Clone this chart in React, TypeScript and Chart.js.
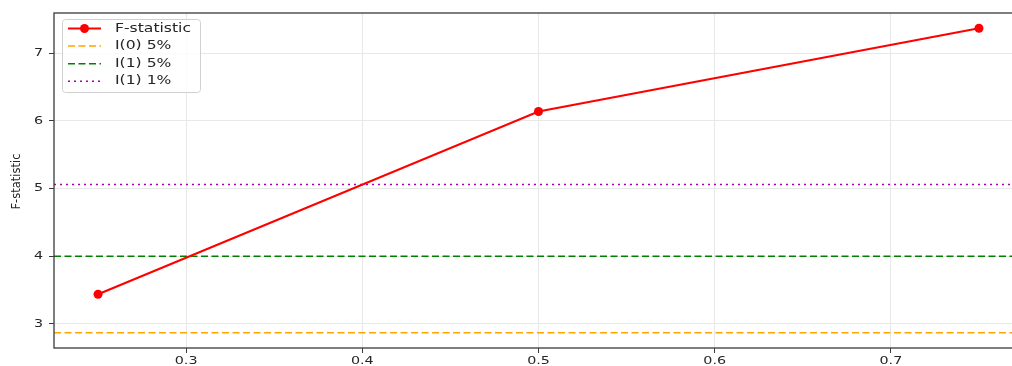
import React, { useEffect, useRef } from "react";
import { Chart, registerables } from "chart.js";

Chart.register(...registerables);

// Bandwidth values and the F-statistic measured at each
const bandwidths = [0.25, 0.5, 0.75];
const fStatistic = [3.44, 6.14, 7.37];

// Critical bounds
const boundI0at5 = 2.87;
const boundI1at5 = 4.0;
const boundI1at1 = 5.06;

// Axis ticks and limits
const xTicks = [0.3, 0.4, 0.5, 0.6, 0.7];
const yTicks = [3, 4, 5, 6, 7];
const xLimits = [0.225, 0.775];
const yLimits = [2.645, 7.595];

const FONT = '"DejaVu Sans", sans-serif';
const TEXT_COLOR = "#262626";
const SPINE_COLOR = "#3a3a3a";

function stretchedText(
  ctx: CanvasRenderingContext2D,
  text: string,
  x: number,
  y: number,
  align: CanvasTextAlign,
  sx: number,
  size: number
) {
  ctx.save();
  ctx.translate(x, y);
  ctx.scale(sx, 1);
  ctx.font = `${size}px ${FONT}`;
  ctx.fillStyle = TEXT_COLOR;
  ctx.textAlign = align;
  ctx.textBaseline = "middle";
  ctx.fillText(text, 0, 0);
  ctx.restore();
}

const decorations = {
  id: "decorations",
  afterDraw(chart: any) {
    const ctx: CanvasRenderingContext2D = chart.ctx;
    const area = chart.chartArea;
    const xs = chart.scales.x;
    const ys = chart.scales.y;

    // frame
    ctx.save();
    ctx.strokeStyle = SPINE_COLOR;
    ctx.lineWidth = 1.3;
    ctx.strokeRect(area.left, area.top, area.right - area.left, area.bottom - area.top);
    ctx.restore();

    // tick labels
    xTicks.forEach((v) => {
      stretchedText(ctx, v.toFixed(1), xs.getPixelForValue(v), area.bottom + 13, "center", 1.3, 11);
    });
    yTicks.forEach((v) => {
      stretchedText(ctx, String(v), area.left - 11, ys.getPixelForValue(v), "right", 1.3, 11);
    });

    // y axis title
    ctx.save();
    ctx.translate(17, (area.top + area.bottom) / 2 + 1);
    ctx.rotate(-Math.PI / 2);
    ctx.scale(0.96, 1.05);
    ctx.font = `12px ${FONT}`;
    ctx.fillStyle = TEXT_COLOR;
    ctx.textAlign = "center";
    ctx.textBaseline = "middle";
    ctx.fillText("F-statistic", 0, 0);
    ctx.restore();

    // legend
    const bx = area.left + 8;
    const by = area.top + 6;
    const bw = 138;
    const bh = 73;
    ctx.save();
    ctx.beginPath();
    (ctx as any).roundRect(bx + 0.5, by + 0.5, bw, bh, 3);
    ctx.fillStyle = "rgba(255,255,255,0.8)";
    ctx.fill();
    ctx.strokeStyle = "#d0d0d0";
    ctx.lineWidth = 1;
    ctx.stroke();
    ctx.restore();

    chart.data.datasets.forEach((ds: any, i: number) => {
      const rowY = by + 9.5 + i * 17.6;
      const x0 = bx + 6;
      const x1 = bx + 39;
      ctx.save();
      ctx.strokeStyle = ds.borderColor;
      ctx.lineWidth = ds.borderWidth;
      ctx.setLineDash(ds.borderDash || []);
      ctx.beginPath();
      ctx.moveTo(x0, rowY);
      ctx.lineTo(x1, rowY);
      ctx.stroke();
      if (ds.pointRadius > 0) {
        ctx.setLineDash([]);
        ctx.fillStyle = ds.borderColor;
        ctx.beginPath();
        ctx.arc((x0 + x1) / 2, rowY, ds.pointRadius, 0, Math.PI * 2);
        ctx.fill();
      }
      ctx.restore();
      stretchedText(ctx, ds.label, bx + 53, rowY, "left", 1.3, 12);
    });
  },
};

export default function App() {
  const canvasRef = useRef<HTMLCanvasElement | null>(null);

  useEffect(() => {
    const canvas = canvasRef.current;
    if (!canvas) return;
    const flat = (v: number) => [
      { x: xLimits[0], y: v },
      { x: xLimits[1], y: v },
    ];
    const chart = new Chart(canvas, {
      type: "line",
      data: {
        datasets: [
          {
            label: "F-statistic",
            data: bandwidths.map((x, i) => ({ x, y: fStatistic[i] })),
            borderColor: "#ff0000",
            backgroundColor: "#ff0000",
            borderWidth: 2.2,
            pointRadius: 4.5,
            pointHoverRadius: 4.5,
            pointBackgroundColor: "#ff0000",
            pointBorderWidth: 0,
            tension: 0,
          },
          {
            label: "I(0) 5%",
            data: flat(boundI0at5),
            borderColor: "#ffa500",
            borderWidth: 1.5,
            borderDash: [7, 3.5],
            pointRadius: 0,
          },
          {
            label: "I(1) 5%",
            data: flat(boundI1at5),
            borderColor: "#008000",
            borderWidth: 1.5,
            borderDash: [7, 3.5],
            pointRadius: 0,
          },
          {
            label: "I(1) 1%",
            data: flat(boundI1at1),
            borderColor: "#a800a8",
            borderWidth: 1.6,
            borderDash: [2, 4],
            pointRadius: 0,
          },
        ] as any,
      },
      options: {
        responsive: false,
        animation: false,
        events: [],
        layout: { padding: { left: 0, right: 17, top: 13, bottom: 0 } },
        plugins: { legend: { display: false }, tooltip: { enabled: false } },
        scales: {
          x: {
            type: "linear",
            min: xLimits[0],
            max: xLimits[1],
            afterBuildTicks: (s: any) => {
              s.ticks = xTicks.map((value) => ({ value }));
            },
            afterFit: (s: any) => {
              s.height = 18;
            },
            ticks: { display: false },
            grid: {
              color: "#e8e8e8",
              lineWidth: 1,
              drawTicks: true,
              tickLength: 5,
              tickColor: SPINE_COLOR,
              tickWidth: 1,
            },
            border: { display: false },
          },
          y: {
            type: "linear",
            min: yLimits[0],
            max: yLimits[1],
            afterBuildTicks: (s: any) => {
              s.ticks = yTicks.map((value) => ({ value }));
            },
            afterFit: (s: any) => {
              s.width = 54;
            },
            ticks: { display: false },
            grid: {
              color: "#e8e8e8",
              lineWidth: 1,
              drawTicks: true,
              tickLength: 5,
              tickColor: SPINE_COLOR,
              tickWidth: 1,
            },
            border: { display: false },
          },
        },
      },
      plugins: [decorations],
    } as any);
    return () => chart.destroy();
  }, []);

  return (
    <div
      style={{
        position: "fixed",
        left: 0,
        top: 0,
        width: 1012,
        height: 366,
        overflow: "hidden",
        background: "#ffffff",
      }}
    >
      <canvas ref={canvasRef} width={1040} height={366} style={{ display: "block" }} />
    </div>
  );
}
